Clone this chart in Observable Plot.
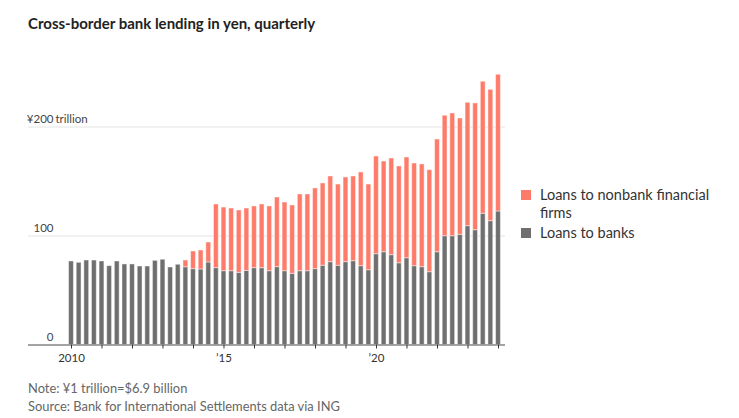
<!DOCTYPE html>
<html>
<head>
<meta charset="utf-8">
<script src="https://cdn.jsdelivr.net/npm/d3@7"></script>
<script src="https://cdn.jsdelivr.net/npm/@observablehq/plot@0.6"></script>
<style>
  html, body { margin: 0; padding: 0; background: #fff; }
  body { position: relative; width: 739px; height: 418px; overflow: hidden; font-family: Lato, "Noto Sans", sans-serif; }
  #title { position: absolute; left: 28px; top: 13px; font-weight: bold; font-size: 15px; line-height: 20px; color: #222; white-space: nowrap; }
  #chart { position: absolute; left: 0; top: 45px; }
  #legend { position: absolute; left: 521px; top: 186px; width: 210px; font-size: 14.5px; line-height: 18px; color: #333; }
  .item { display: flex; align-items: flex-start; margin-bottom: 2px; }
  .sw { width: 10px; height: 10px; flex: none; margin-top: 4px; margin-right: 9px; }
  #footer { position: absolute; left: 28px; top: 379px; font-size: 12.9px; line-height: 18px; color: #666; }
</style>
</head>
<body>
<div id="title"></div>
<div id="chart"></div>
<div id="legend"></div>
<div id="footer"></div>
<script>
// ---- data (¥ trillion), quarterly, first bar at 2010 tick ----
const firstQuarter = 2010;           // x position of first bar (year)
const quarterStep = 0.25;            // one quarter in years
const banks = [76.6,75.4,77.5,77.5,76.6,72.3,76.6,73.9,73.9,72,72,77.2,78.2,71.1,73.6,
  71.3,69.6,69.3,75.7,70.5,67.7,67.7,66.2,68,70.5,70.5,67.7,71.4,67.7,65.3,67.7,67.7,69.6,72.7,76,72.7,76,
  76.9,72.3,68.6,83.3,85.1,82.4,75,79.6,72.3,71.4,66.8,85.1,99.8,99.8,101.1,109,105.3,120.4,113.6,122.5];
const nonbank = [0,0,0,0,0,0,0,0,0,0,0,0,0,0,0,
  6.2,16.2,17.4,18.3,58.4,58.4,57.5,57.2,57.2,56.6,58.4,59.4,63.9,63,62.7,70.4,70.4,74,75.5,78.6,74.5,77.7,
  77.7,86,78.6,89.6,83.2,88.7,88.8,92.4,94.2,94.2,93.6,103.4,110.5,112.6,106.7,113.2,116.3,121.1,120.5,125.4];
const yTicks = [0, 100, 200];
const xTicks = [2010,2011,2012,2013,2014,2015,2016,2017,2018,2019,2020,2021,2022,2023,2024];
const seriesNames = ["Loans to nonbank financial firms", "Loans to banks"];
const colors = ["#ff7b69", "#6f6f6f"];
const titleText = "Cross-border bank lending in yen, quarterly";
const noteText = "Note: ¥1 trillion=$6.9 billion";
const sourceText = "Source: Bank for International Settlements data via ING";

const table = banks.map((b, i) => ({
  t: firstQuarter + i * quarterStep,
  banks: b,
  nonbank: nonbank[i]
}));

const half = quarterStep / 2;
const xfmt = d => d === 2010 ? "2010" : (d % 5 === 0 ? "\u2019" + String(d).slice(2) : "");

const plot = Plot.plot({
  width: 739,
  height: 330,
  marginLeft: 28,
  marginRight: 234,
  marginTop: 27,
  marginBottom: 30.5,
  x: { domain: [2008.59, 2024.23] },
  y: { domain: [0, 250], axis: null },
  style: { fontFamily: "Lato, 'Noto Sans', sans-serif", fontSize: "11.5px", color: "#333", background: "white" },
  marks: [
    Plot.ruleY([100, 200], { stroke: "#ececec", strokeWidth: 1.3 }),
    Plot.rect(table, {
      x1: d => d.t - half, x2: d => d.t + half, y1: 0, y2: "banks",
      fill: colors[1], insetLeft: 1.4, insetRight: 1.4,
      stroke: "#fff", strokeOpacity: 0.45, strokeWidth: 1
    }),
    Plot.rect(table.filter(d => d.nonbank > 0), {
      x1: d => d.t - half, x2: d => d.t + half,
      y1: "banks", y2: d => d.banks + d.nonbank,
      fill: colors[0], insetLeft: 1.4, insetRight: 1.4,
      stroke: "#fff", strokeOpacity: 0.45, strokeWidth: 1
    }),
    Plot.ruleY([0], { stroke: "#858585", strokeWidth: 1.5 }),
    Plot.axisX({ ticks: xTicks, tickSize: 4, tickPadding: 5, tickFormat: xfmt, stroke: "#333", label: null, fill: "#333" }),
    Plot.text(yTicks, {
      y: d => d, text: d => d === 200 ? "¥200" : String(d),
      frameAnchor: "left", dx: 25, dy: -7.5, textAnchor: "end", fill: "#444"
    }),
    Plot.text([200], {
      y: d => d, text: () => "trillion",
      frameAnchor: "left", dx: 27, dy: -7.5, textAnchor: "start", fill: "#444"
    })
  ]
});
document.getElementById("chart").appendChild(plot);

document.getElementById("title").textContent = titleText;
const legend = document.getElementById("legend");
seriesNames.forEach((name, i) => {
  const item = document.createElement("div");
  item.className = "item";
  const sw = document.createElement("div");
  sw.className = "sw";
  sw.style.background = colors[i];
  const lab = document.createElement("div");
  lab.textContent = name;
  lab.style.width = "185px";
  item.appendChild(sw);
  item.appendChild(lab);
  legend.appendChild(item);
});
const footer = document.getElementById("footer");
[noteText, sourceText].forEach(t => {
  const d = document.createElement("div");
  d.textContent = t;
  footer.appendChild(d);
});
</script>
</body>
</html>
